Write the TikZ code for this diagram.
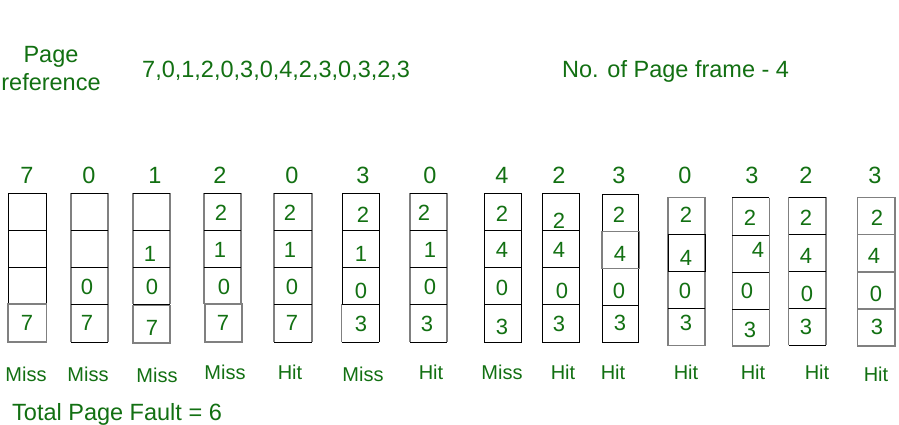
\documentclass[tikz,border=0pt]{standalone}
\usepackage{fontspec}
\setmainfont{Liberation Sans}
\definecolor{gg}{RGB}{18,112,18}
\definecolor{lg}{RGB}{128,128,128}
\begin{document}
\begin{tikzpicture}[x=1pt,y=-1pt,
  txt/.style={text=gg,inner sep=0pt,font=\fontsize{23.5}{28}\selectfont},
  cd/.style={text=gg,inner sep=0pt,font=\fontsize{22}{26}\selectfont},
  lab/.style={text=gg,inner sep=0pt,font=\fontsize{20}{24}\selectfont},
  bk/.style={draw=black,line width=1pt},
  gy/.style={draw=lg,line width=1.4pt}]
\useasboundingbox (0,0) rectangle (899,424);
\fill[white] (0,0) rectangle (899,424);

% header
\node[txt,anchor=base] (pg) at (51,62) {Page};
\node[txt,anchor=base] (rf) at (51,90) {reference};
\node[txt,anchor=base west] (seq) at (142,77) {7,0,1,2,0,3,0,4,2,3,0,3,2,3};
\node[txt,anchor=base west] (nf) at (562,77) {No. of Page frame - 4};

% frames
% col1
\draw[bk] (8,193) rectangle (46,304);
\draw[bk] (8,230) -- (46,230) (8,267) -- (46,267);
\draw[gy] (8,304) rectangle (46.3,342);
% col2
\draw[gy] (71,193) -- (71,342) (108,193) -- (108,342);
\draw[bk] (71,193) -- (108,193) (71,230) -- (108,230) (71,267) -- (108,267) (71,304) -- (108,304) (71,342) -- (108,342);
% col3
\draw[gy] (133,193) -- (133,304) (170,193) -- (170,304);
\draw[bk] (133,193) -- (170,193) (133,230) -- (170,230) (133,267) -- (170,267) (133,304) -- (170,304);
\draw[gy] (133,305.7) rectangle (170,343);
% col4
\draw[gy] (204,193) -- (204,304) (241,193) -- (241,304);
\draw[bk] (204,193) -- (241,193) (204,230) -- (241,230) (204,267) -- (241,267) (204,304) -- (241,304);
\draw[gy] (205,304) rectangle (242,342);
% col5
\draw[gy] (274,193) -- (274,342) (312,193) -- (312,342);
\draw[bk] (274,193) -- (312,193) (274,230) -- (312,230) (274,267) -- (312,267) (274,304) -- (312,304) (274,342) -- (312,342);
% col6
\draw[bk] (342,193) rectangle (379,304);
\draw[bk] (342,230) -- (379,230) (342,267) -- (379,267) (341.7,342) -- (379,342) (379,304) -- (379,342);
\draw[gy] (341.7,304) -- (341.7,342);
% col7
\draw[gy] (410,193) -- (410,342) (447,193) -- (447,342);
\draw[bk] (410,193) -- (447,193) (410,230) -- (447,230) (410,267) -- (447,267) (410,304) -- (447,304) (410,342) -- (447,342);
% col8
\draw[bk] (484,193) rectangle (521,342);
\draw[bk] (484,230) -- (521,230) (484,267) -- (521,267) (484,304) -- (521,304);
% col9
\draw[bk] (542,193) rectangle (579,342);
\draw[bk] (542,230) -- (579,230) (542,267) -- (579,267) (542,304) -- (579,304);
% col10
\draw[bk] (602,194.3) rectangle (638,342.7);
\draw[bk] (602,268.3) -- (638,268.3) (602,305.7) -- (638,305.7);
\draw[gy] (602,231.7) rectangle (639.3,268.3);
% col11
\draw[gy] (668,197.3) rectangle (705,345.3);
\draw[bk] (668,308.3) -- (705,308.3);
\draw[bk] (668.3,234.3) rectangle (705.7,271.3);
% col12
\draw[gy] (732.3,197.7) -- (732.3,346) (769.3,197.7) -- (769.3,346) (732.3,346) -- (769.3,346);
\draw[bk] (732.3,197.7) -- (769.3,197.7) (732.3,235) -- (769.3,235) (732.3,272) -- (769.3,272) (732.3,309) -- (769.3,309);
% col13
\draw[gy] (788.7,197.3) -- (788.7,345.3) (826,197.3) -- (826,345.3);
\draw[bk] (788.7,197.3) -- (826,197.3) (788.7,234.3) -- (826,234.3) (788.7,271.3) -- (826,271.3) (788.7,308.3) -- (826,308.3) (788.7,345.3) -- (826,345.3);
% col14
\draw[gy] (857.7,197.7) rectangle (895,346);
\draw[gy] (857.7,234.7) -- (895,234.7) (857.7,272) -- (895,272) (857.7,309) -- (895,309);

% reference string above columns
\foreach \x/\v [count=\i] in {27/7,89/0,155/1,220/2,292/0,363/3,430/0,502/4,559/2,619/3,685/0,752/3,806/2,875/3}
  \node[txt,name=t\i] at (\x,175) {\v};

% frame contents
\foreach \x/\y/\v [count=\i] in {
  27/323/7,
  87/287/0, 87/323/7,
  150/254/1, 152/287/0, 152/328/7,
  221/213/2, 220/250/1, 224/287/0, 223/323/7,
  290/213/2, 290/250/1, 292/287/0, 292/323/7,
  363/215/2, 361/254/1, 361/291/0, 361/324/3,
  424/213/2, 430/250/1, 430/287/0, 427/324/3,
  502/214/2, 502/250/4, 502/288/0, 502/327/3,
  559/221/2, 559/250/4, 562/291/0, 559/324/3,
  619/215/2, 620/254/4, 619/291/0, 620/323/3,
  686/215/2, 686/258/4, 685/291/0, 686/323/3,
  750/218/2, 758/250/4, 747/291/0, 750/330/3,
  806/218/2, 806/256/4, 807/294/0, 806/327/3,
  877/218/2, 874/256/4, 876/294/0, 877/327/3}
  \node[cd,name=c\i] at (\x,\y) {\v};

% hit / miss
\foreach \x/\y/\v [count=\i] in {26/374/Miss,88/374/Miss,157/375/Miss,225/372/Miss,290/372/Hit,363/374/Miss,431/372/Hit,502/372/Miss,563/372/Hit,613/372/Hit,686/372/Hit,753/372/Hit,817/372/Hit,876/374/Hit}
  \node[lab,name=l\i] at (\x,\y) {\v};

\node[txt,anchor=base west] (tot) at (12,420) {Total Page Fault = 6};
\end{tikzpicture}
\end{document}
